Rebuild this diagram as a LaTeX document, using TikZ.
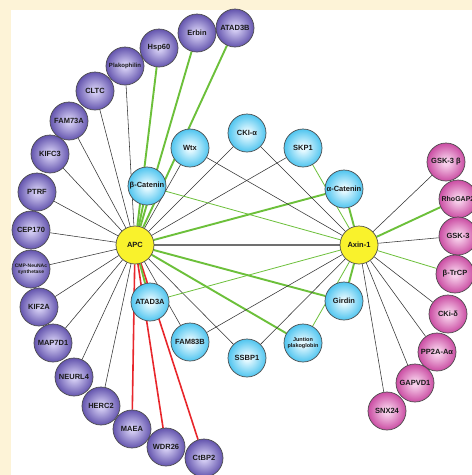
\documentclass[tikz,border=0pt]{standalone}
\usepackage{fontspec}
\setsansfont{Liberation Sans}
\usepackage{xcolor}
\usepackage{tikz}
\usetikzlibrary{backgrounds}

\definecolor{cream}{HTML}{FDF3D7}
\definecolor{purpedge}{HTML}{36276F}
\definecolor{purpmid}{HTML}{5A4AA8}
\definecolor{purpcore}{HTML}{CFC8F0}
\definecolor{blueedge}{HTML}{1A98D3}
\definecolor{bluemid}{HTML}{42C0EE}
\definecolor{bluecore}{HTML}{E2F8FF}
\definecolor{pinkedge}{HTML}{96136E}
\definecolor{pinkmid}{HTML}{C6409C}
\definecolor{pinkcore}{HTML}{F6CDE9}
\definecolor{hubyellow}{HTML}{F9F22C}
\definecolor{linkgreen}{HTML}{6CC03A}
\definecolor{linkred}{HTML}{E8262B}
\definecolor{linkgray}{HTML}{707070}

\pgfdeclareradialshading{purpball}{\pgfpoint{0bp}{0bp}}{color(0bp)=(purpcore); color(4bp)=(purpcore); color(27bp)=(purpmid); color(50bp)=(purpedge); color(72bp)=(purpedge)}
\pgfdeclareradialshading{blueball}{\pgfpoint{0bp}{0bp}}{color(0bp)=(bluecore); color(4bp)=(bluecore); color(27bp)=(bluemid); color(50bp)=(blueedge); color(72bp)=(blueedge)}
\pgfdeclareradialshading{pinkball}{\pgfpoint{0bp}{0bp}}{color(0bp)=(pinkcore); color(4bp)=(pinkcore); color(27bp)=(pinkmid); color(50bp)=(pinkedge); color(72bp)=(pinkedge)}

\tikzset{
  prot/.style={circle, minimum size=38pt, inner sep=0pt, draw=black!70, line width=0.7pt,
    text=black!90, align=center, font=\sffamily\bfseries\fontsize{7.5}{8}\selectfont},
  purp/.style={prot, shading=purpball},
  blu/.style={prot, shading=blueball},
  pnk/.style={prot, shading=pinkball},
  hub/.style={prot, fill=hubyellow},
  tiny/.style={font=\sffamily\bfseries\fontsize{5.5}{6}\selectfont},
  blk/.style={draw=black!80, line width=0.55pt},
  grthick/.style={draw=linkgreen, line width=1.9pt},
  grthin/.style={draw=linkgreen, line width=0.8pt},
  redlink/.style={draw=linkred, line width=1.6pt},
  graylink/.style={draw=linkgray, line width=1.7pt}
}

\begin{document}
\begin{tikzpicture}[x=1pt, y=-1pt]

    \useasboundingbox (0,0) rectangle (472,475);

    % hubs
    \node[hub] (apc) at (135,245) {APC};
    \node[hub] (axin) at (359,245) {Axin-1};

    % purple ring round APC
    \node[purp] (atad3b) at (235,28) {ATAD3B};
    \node[purp] (erbin) at (197,33) {Erbin};
    \node[purp] (hsp60) at (159,48) {Hsp60};
    \node[purp, font=\sffamily\bfseries\fontsize{6}{7}\selectfont] (plako) at (125,66) {Plakophilin};
    \node[purp] (cltc) at (95,91) {CLTC};
    \node[purp] (fam73a) at (69,121) {FAM73A};
    \node[purp] (kifc3) at (50,154) {KIFC3};
    \node[purp] (ptrf) at (37,192) {PTRF};
    \node[purp] (cep170) at (31,230) {CEP170};
    \node[purp, font=\sffamily\bfseries\fontsize{5}{6}\selectfont] (cmp) at (31,269) {CMP-NeuNAc\\synthetase};
    \node[purp] (kif2a) at (39,307) {KIF2A};
    \node[purp] (map7d1) at (53,343) {MAP7D1};
    \node[purp] (neurl4) at (74,377) {NEURL4};
    \node[purp] (herc2) at (101,406) {HERC2};
    \node[purp] (maea) at (132,429) {MAEA};
    \node[purp] (wdr26) at (166,447) {WDR26};
    \node[purp] (ctbp2) at (204,458) {CtBP2};

    % blue partners in between
    \node[blu] (bcat) at (147,186) {β-Catenin};
    \node[blu] (wtx) at (190,148) {Wtx};
    \node[blu] (ckia) at (247,133) {CKI-α};
    \node[blu] (skp1) at (303,148) {SKP1};
    \node[blu] (acat) at (344,189) {α-Catenin};
    \node[blu] (girdin) at (344,301) {Girdin};
    \node[blu, tiny] (junt) at (303,343) {Juntion\\plakoglobin};
    \node[blu] (ssbp1) at (247,358) {SSBP1};
    \node[blu] (fam83b) at (190,342) {FAM83B};
    \node[blu] (atad3a) at (150,302) {ATAD3A};

    % pink ring round Axin-1
    \node[pnk] (gsk3b) at (446,162) {GSK-3 β};
    \node[pnk, font=\sffamily\bfseries\fontsize{7}{8}\selectfont] (rhogap2) at (458,199) {RhoGAP2};
    \node[pnk] (gsk3) at (458,236) {GSK-3};
    \node[pnk] (btrcp) at (455,274) {β-TrCP};
    \node[pnk] (ckid) at (448,314) {CKi-δ};
    \node[pnk] (pp2a) at (437,352) {PP2A-Aα};
    \node[pnk] (gapvd1) at (415,383) {GAPVD1};
    \node[pnk] (snx24) at (387,411) {SNX24};

    \begin{pgfonlayer}{background}
    \fill[cream] (0,0) rectangle (472,475);
    \fill[white] (11,10) rectangle (472,475);

    % APC to its ring
    \draw[grthick] (apc) -- (atad3b);
    \draw[grthick] (apc) -- (erbin);
    \draw[grthick] (apc) -- (hsp60);
    \draw[blk] (apc) -- (plako);
    \draw[blk] (apc) -- (cltc);
    \draw[blk] (apc) -- (fam73a);
    \draw[blk] (apc) -- (kifc3);
    \draw[blk] (apc) -- (ptrf);
    \draw[blk] (apc) -- (cep170);
    \draw[blk] (apc) -- (cmp);
    \draw[blk] (apc) -- (kif2a);
    \draw[blk] (apc) -- (map7d1);
    \draw[blk] (apc) -- (neurl4);
    \draw[blk] (apc) -- (herc2);
    \draw[redlink] (apc) -- (maea);
    \draw[redlink] (apc) -- (wdr26);
    \draw[redlink] (apc) -- (ctbp2);

    % APC to the shared partners
    \draw[grthick] (apc) -- (bcat);
    \draw[blk] (apc) -- (wtx);
    \draw[blk] (apc) -- (ckia);
    \draw[blk] (apc) -- (skp1);
    \draw[grthick] (apc) -- (acat);
    \draw[grthick] (apc) -- (girdin);
    \draw[grthick] (apc) -- (junt);
    \draw[blk] (apc) -- (ssbp1);
    \draw[blk] (apc) -- (fam83b);
    \draw[grthick] (apc) -- (atad3a);
    \draw[graylink] (apc) -- (axin);

    % Axin-1 to the shared partners
    \draw[grthin] (axin) -- (bcat);
    \draw[blk] (axin) -- (wtx);
    \draw[blk] (axin) -- (ckia);
    \draw[grthin] (axin) -- (skp1);
    \draw[grthick] (axin) -- (acat);
    \draw[grthick] (axin) -- (girdin);
    \draw[grthin] (axin) -- (junt);
    \draw[blk] (axin) -- (ssbp1);
    \draw[blk] (axin) -- (fam83b);
    \draw[grthin] (axin) -- (atad3a);

    % Axin-1 to its ring
    \draw[blk] (axin) -- (gsk3b);
    \draw[grthick] (axin) -- (rhogap2);
    \draw[blk] (axin) -- (gsk3);
    \draw[grthin] (axin) -- (btrcp);
    \draw[blk] (axin) -- (ckid);
    \draw[blk] (axin) -- (pp2a);
    \draw[blk] (axin) -- (gapvd1);
    \draw[blk] (axin) -- (snx24);
    \end{pgfonlayer}

\end{tikzpicture}
\end{document}
